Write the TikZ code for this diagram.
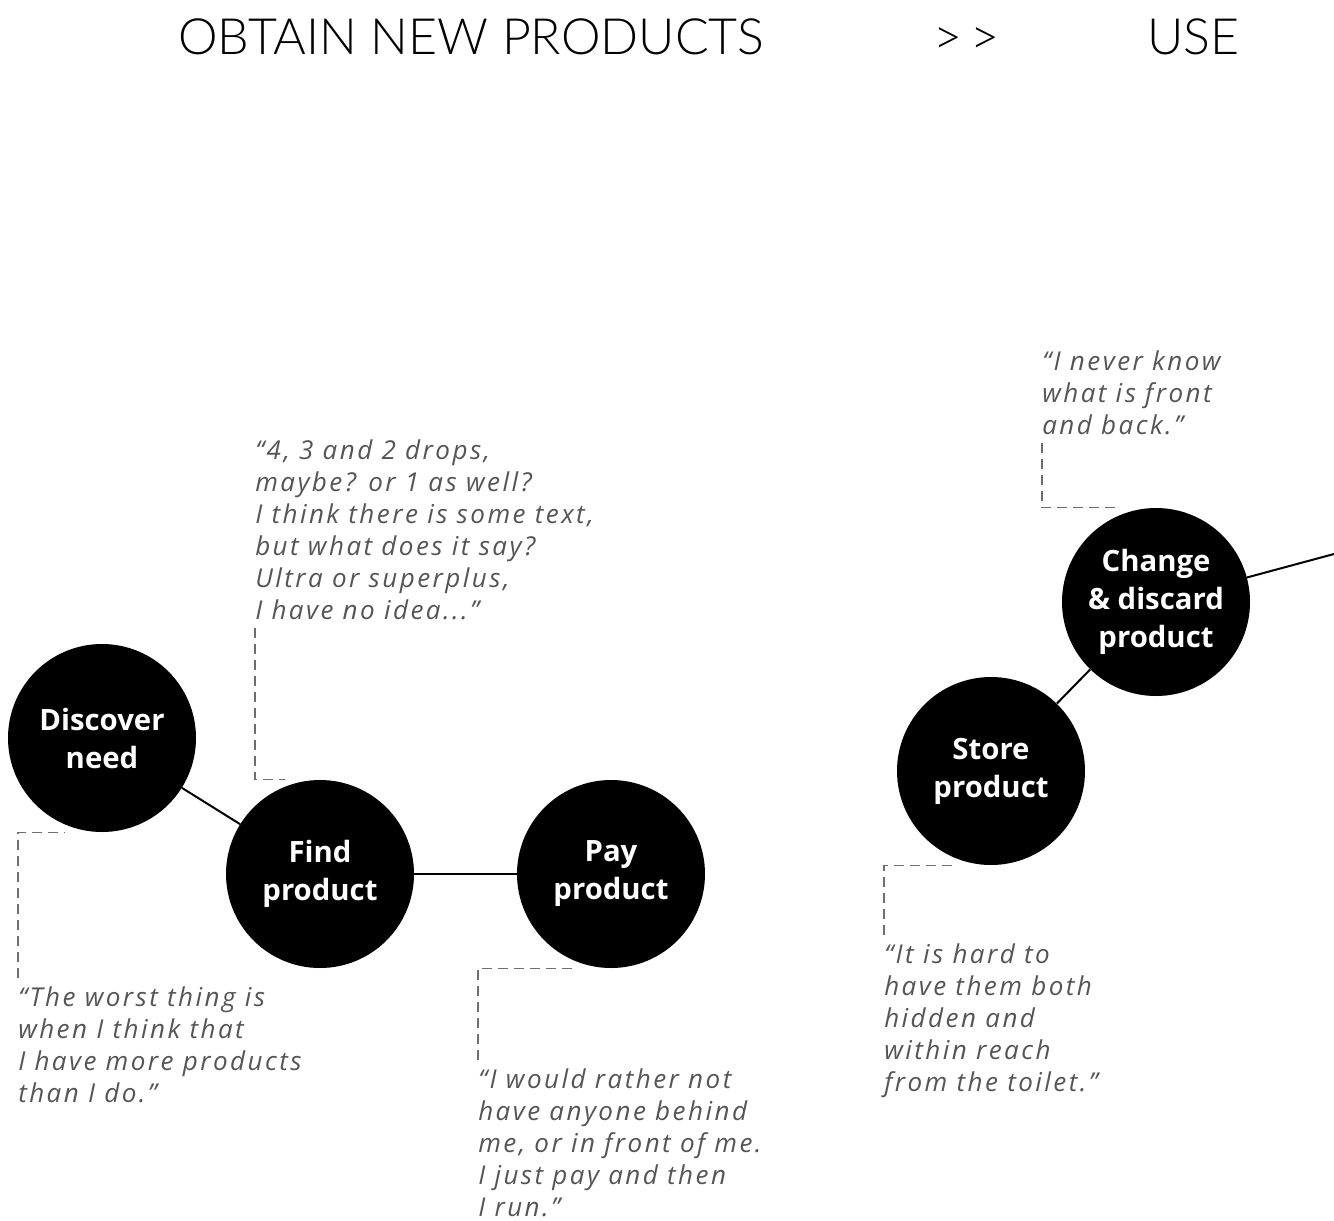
\documentclass[tikz,border=0pt]{standalone}
\usepackage{fontspec}
\setmainfont{Open Sans}
\newfontfamily\titlefont{Lato Light}
\newfontfamily\quotefont{Open Sans}[LetterSpace=9.5]
\usepackage{xcolor}
\usetikzlibrary{positioning}
\definecolor{quotegray}{HTML}{555555}
\definecolor{leadergray}{HTML}{6E6E6E}

\begin{document}
\begin{tikzpicture}[
		x=0.75pt, y=-0.75pt,
		stage/.style = {shape=circle, fill=black, text=white, minimum size=141pt, inner sep=0pt, align=center, font=\bfseries\fontsize{22}{28.5}\selectfont},
		saying/.style = {align=left, inner xsep=0pt, inner ysep=6pt, text=quotegray, font=\quotefont\itshape\fontsize{19.5}{24}\selectfont},
		link/.style = {line width=1.5pt},
		leader/.style = {draw=leadergray, line width=1.1pt, dash pattern=on 7.5pt off 4.5pt},
		heading/.style = {anchor=base west, inner sep=0pt, font=\titlefont\fontsize{37.5}{38}\selectfont}]
	\useasboundingbox (0,0) rectangle (1334,1220);
	% phases
	\node[heading] (obtain) at (178,55) {OBTAIN NEW PRODUCTS};
	\node[heading] (next) at (933,55) {>\,>};
	\node[heading] (use) at (1147,55) {USE};
	% steps
	\node[stage] (disc) at (102,738) {Discover\\need};
	\node[stage] (find) at (320,874) {Find\\product};
	\node[stage] (pay) at (611,874) {Pay\\product};
	\node[stage] (store) at (991,771) {Store\\product};
	\node[stage] (change) at (1156,602) {Change\\\&~discard\\product};
	\coordinate (exit) at (1334,554);
	\draw[link] (disc) -- (find);
	\draw[link] (find) -- (pay);
	\draw[link] (store) -- (change);
	\draw[link] (change) -- (exit);
	% quotes
	\node[saying, anchor=north west] (qdisc) at (18,978) {“The worst thing is\\when I think that\\I have more products\\than I do.”};
	\node[saying, anchor=north west] (qfind) at (255,431) {“4, 3 and 2 drops,\\maybe? or 1 as well?\\I think there is some text,\\but what does it say?\\Ultra or superplus,\\I have no idea...”};
	\node[saying, anchor=north west] (qpay) at (478,1060) {“I would rather not\\have anyone behind\\me, or in front of me.\\I just pay and then\\I run.”};
	\node[saying, anchor=north west] (qstore) at (884,935) {“It is hard to\\have them both\\hidden and\\within reach\\from the toilet.”};
	\node[saying, anchor=north west] (qchange) at (1042,342) {“I never know\\what is front\\and back.”};
	\draw[leader] (qdisc.north west) |- ([xshift=-28pt]disc.south);
	\draw[leader] (qfind.south west) |- ([xshift=-26pt]find.north);
	\draw[leader] (qpay.north west) |- ([xshift=-27pt]pay.south);
	\draw[leader] (qstore.north west) |- ([xshift=-25pt]store.south);
	\draw[leader] (qchange.south west) |- ([xshift=-31pt]change.north);
\end{tikzpicture}
\end{document}
